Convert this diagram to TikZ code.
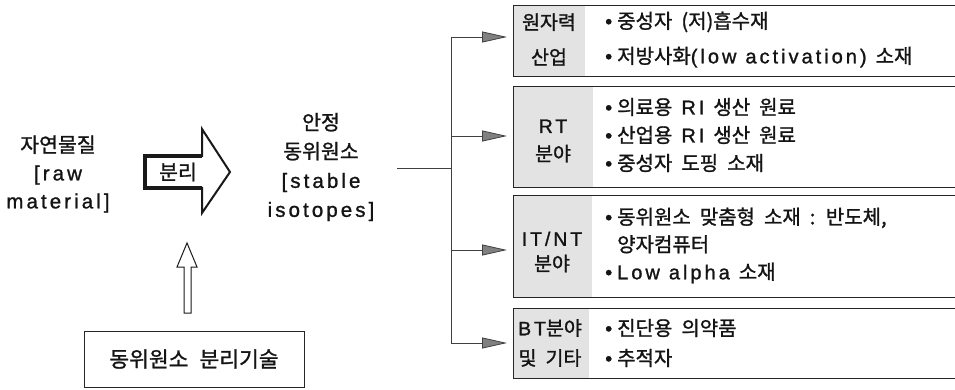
\documentclass[tikz,border=0pt]{standalone}
\usepackage{fontspec}
\setmainfont{Noto Sans CJK KR}[RawFeature={embolden=1.2}]
\newfontfamily\latfont[LetterSpace=15,RawFeature={embolden=1.2}]{Liberation Sans}
\newcommand\lt[1]{{\latfont #1}}
\newcommand\bul{{\latfont •}\hspace{0.25em}}
\newcommand\wsp{\spaceskip=9pt\relax}
\newcommand\wspb{\spaceskip=11pt\relax}
\usetikzlibrary{arrows.meta}
\begin{document}
\begin{tikzpicture}[x=1pt,y=-1pt,
  txt/.style={font=\fontsize{20.5}{28}\selectfont, align=center, inner sep=0pt, text=black!92},
  boxframe/.style={draw=black!85, line width=1.3pt, inner sep=0pt, anchor=north west, minimum width=460pt},
  labfill/.style={fill=black!11, inner sep=0pt, anchor=north west},
  item/.style={align=left, anchor=west, inner sep=0pt, text=black!92},
  conn/.style={draw=black!75, line width=0.8pt},
  gtip/.style={-{Triangle[length=25pt,width=11pt,fill=black!50]}}
]
\useasboundingbox (0,0) rectangle (955,390);
\clip (0,0) rectangle (955,390);

% left texts
\node[txt] (raw) at (58,174) {자연물질\\\lt{[raw}\\\lt{material]}};
\node[txt, font=\fontsize{20.5}{29}\selectfont] (iso) at (321,167) {안정\\동위원소\\\lt{[stable}\\\lt{isotopes]}};

% big separation arrow
\draw[line width=2pt, line join=miter, draw=black!90] (145,156) -- (202,156) -- (202,129) -- (230,172) -- (202,213) -- (202,188) -- (145,188) -- cycle;
\draw[line width=3.2pt, draw=black!90] (202,156) -- (145,156) -- (145,188) -- (202,188);
\node[txt] (sep) at (178,172) {분리};

% technology box and up arrow
\node[draw=black!85, line width=1pt, minimum width=220pt, minimum height=56pt, inner sep=0pt,
      font=\fontsize{21.5}{24}\selectfont\wspb, text=black!92] (tech) at (194,359) {동위원소 분리기술};
\draw[line width=1pt, draw=black!90, line join=miter] (184,313) -- (184,267) -- (177,267) -- (187,243) -- (197,267) -- (191,267) -- (191,313) -- cycle;

% right boxes
\node[labfill, minimum width=72pt, minimum height=71pt] (l1f) at (513,5) {};
\node[boxframe, minimum height=71pt] (b1) at (513,5) {};
\node[labfill, minimum width=80pt, minimum height=101pt] (l2f) at (513,86) {};
\node[boxframe, minimum height=101pt] (b2) at (513,86) {};
\node[labfill, minimum width=79pt, minimum height=102pt] (l3f) at (513,195) {};
\node[boxframe, minimum height=102pt] (b3) at (513,195) {};
\node[labfill, minimum width=76pt, minimum height=70pt] (l4f) at (513,308) {};
\node[boxframe, minimum height=70pt] (b4) at (513,308) {};

% labels
\node[txt, font=\fontsize{19.5}{35}\selectfont] (l1) at (549,39.5) {원자력\\산업};
\node[txt, font=\fontsize{19.5}{28}\selectfont] (l2) at (553,141) {\lt{RT}\\분야};
\node[txt, font=\fontsize{19.5}{25}\selectfont] (l3) at (552,252) {\lt{IT/NT}\\분야};
\node[txt, font=\fontsize{19.5}{30}\selectfont\wsp] (l4) at (550,343) {\lt{BT}분야\\및 기타};

% items
\node[item, font=\fontsize{20}{35}\selectfont\wsp] (i1) at (605,39.5) {\bul 중성자 (저)흡수재\\\bul 저방사화\lt{(low activation) }소재};
\node[item, font=\fontsize{20}{28}\selectfont\wsp] (i2) at (605,135) {\bul 의료용 \lt{RI }생산 원료\\\bul 산업용 \lt{RI }생산 원료\\\bul 중성자 도핑 소재};
\node[item, font=\fontsize{20}{27.5}\selectfont\wsp] (i3) at (605,245.5) {\bul 동위원소 맞춤형 소재 : 반도체,\\\hphantom{\bul}양자컴퓨터\\\bul \lt{Low alpha }소재};
\node[item, font=\fontsize{20}{30}\selectfont\wsp] (i4) at (605,343) {\bul 진단용 의약품\\\bul 추적자};

% connectors
\coordinate (h0) at (397,168);
\coordinate (hj) at (451,168);
\coordinate (v1) at (451,37);
\coordinate (v2) at (451,136);
\coordinate (v3) at (451,250);
\coordinate (v4) at (451,343);
\draw[conn] (h0) -- (hj);
\draw[conn] (v1) -- (v4);
\draw[conn, gtip, shorten >=6pt] (v1) -- (v1 -| b1.west);
\draw[conn, gtip, shorten >=6pt] (v2) -- (v2 -| b2.west);
\draw[conn, gtip, shorten >=6pt] (v3) -- (v3 -| b3.west);
\draw[conn, gtip, shorten >=6pt] (v4) -- (v4 -| b4.west);
\end{tikzpicture}
\end{document}
